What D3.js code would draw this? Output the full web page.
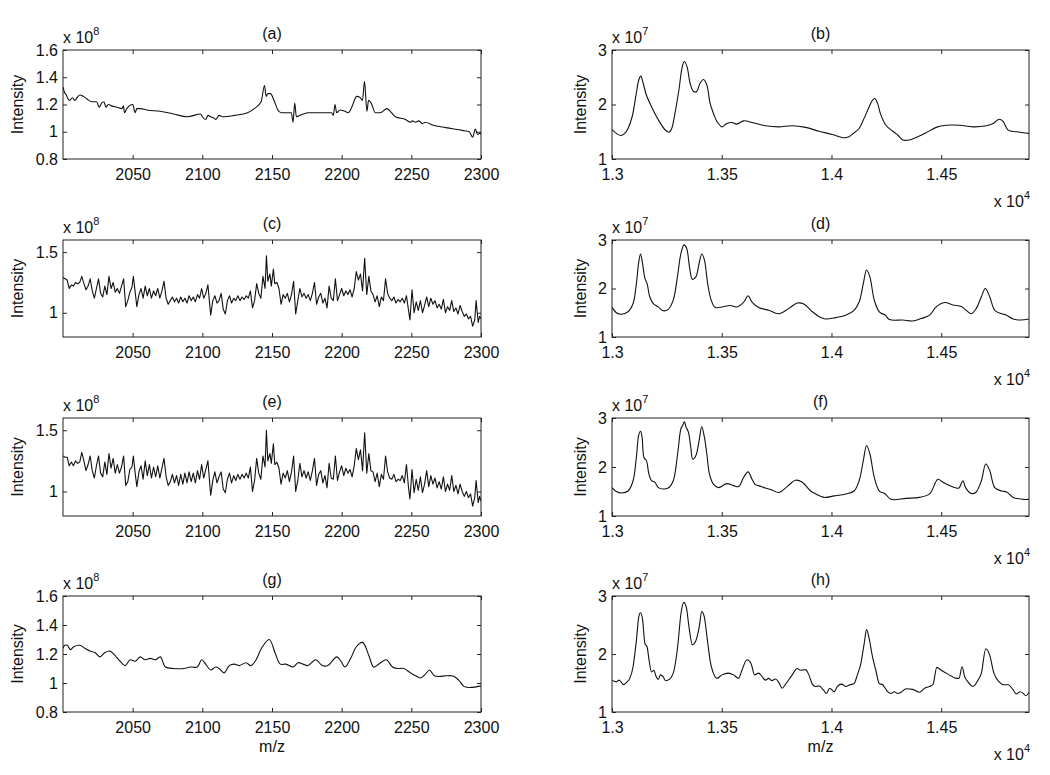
<!DOCTYPE html>
<html>
<head>
<meta charset="utf-8">
<script src="https://cdn.jsdelivr.net/npm/d3@7"></script>
<style>
  body { margin: 0; background: #fff; }
</style>
</head>
<body>
<svg id="chart"></svg>
<script>
// ---- data (intensities in units of the axis exponent: x10^8 left, x10^7 right) ----

// (a) raw spectrum, low mass range
const aMz = [2000, 2001, 2002.4, 2003.6, 2004.8, 2006.7, 2008.4, 2010.1, 2012, 2014.5, 2017.3, 2020.5, 2024.1, 2026, 2027.7, 2029.4, 2030.8, 2032.5, 2034.9, 2038.6, 2042.2, 2043.4, 2044.1, 2045.8, 2050.1, 2051.8, 2053, 2055.4, 2060.2, 2069.9, 2079.5, 2089.2, 2098.8, 2100, 2102.4, 2104.1, 2106, 2108.4, 2109.6, 2112, 2114.5, 2122.9, 2132.5, 2137.3, 2142.2, 2144.6, 2145.8, 2147, 2148.9, 2151.8, 2154.2, 2156.6, 2163.9, 2165.1, 2166.3, 2167.5, 2169.9, 2175.9, 2188, 2192.8, 2194, 2195.2, 2196.4, 2198.8, 2202.4, 2204.8, 2207.2, 2210.8, 2213.3, 2214.9, 2216.4, 2218.1, 2219.3, 2221.2, 2224.1, 2227.7, 2232.5, 2234.9, 2238.6, 2245.8, 2249.4, 2250.6, 2253, 2255.4, 2257.8, 2260.2, 2265.1, 2274.7, 2286.7, 2291.6, 2294, 2295.9, 2297.6, 2299.3, 2300];
const aInt = [1.33, 1.29, 1.27, 1.24, 1.23, 1.25, 1.23, 1.25, 1.27, 1.26, 1.24, 1.22, 1.22, 1.18, 1.21, 1.22, 1.18, 1.20, 1.19, 1.18, 1.17, 1.19, 1.14, 1.17, 1.20, 1.14, 1.17, 1.17, 1.16, 1.15, 1.13, 1.11, 1.13, 1.11, 1.09, 1.12, 1.11, 1.10, 1.09, 1.12, 1.11, 1.12, 1.14, 1.17, 1.22, 1.34, 1.26, 1.28, 1.28, 1.22, 1.16, 1.14, 1.14, 1.07, 1.21, 1.11, 1.12, 1.14, 1.14, 1.14, 1.12, 1.20, 1.14, 1.16, 1.15, 1.14, 1.18, 1.26, 1.25, 1.23, 1.37, 1.15, 1.23, 1.21, 1.14, 1.14, 1.17, 1.15, 1.11, 1.09, 1.07, 1.08, 1.07, 1.08, 1.06, 1.07, 1.05, 1.03, 1.01, 1.00, 0.96, 1.02, 0.98, 0.99, 0.98];

// (c), (e) noisy spectra share one m/z grid
const noiseMz = [2000, 2001.5, 2003, 2004.5, 2006, 2007.5, 2009, 2010.5, 2012, 2013.5, 2015, 2016.5, 2018, 2019.5, 2021, 2022.5, 2024, 2025.5, 2027, 2028.5, 2030, 2031.5, 2033, 2034.5, 2036, 2037.5, 2039, 2040.5, 2042, 2043.5, 2045, 2046.5, 2048, 2049.5, 2050.5, 2052, 2053, 2054.5, 2056, 2057.5, 2059, 2060.5, 2062, 2063.5, 2065, 2066.5, 2068, 2069.5, 2071, 2072.5, 2074, 2075.5, 2077, 2078.5, 2080, 2081.5, 2083, 2084.5, 2086, 2087.5, 2089, 2090.5, 2092, 2093.5, 2095, 2096.5, 2098, 2099.5, 2101, 2102.5, 2104, 2106, 2107.5, 2109, 2110.5, 2112, 2113.5, 2115, 2116.5, 2118, 2119.5, 2121, 2122.5, 2124, 2125.5, 2127, 2128.5, 2130, 2131.5, 2133, 2134.5, 2136, 2137.5, 2139, 2140.5, 2142, 2143.5, 2145, 2146, 2147, 2148.5, 2149.5, 2151, 2152, 2153.5, 2155, 2156.5, 2158, 2159.5, 2161, 2162.5, 2164, 2165.5, 2167, 2168.5, 2170, 2171.5, 2173, 2174.5, 2176, 2177.5, 2179, 2180.5, 2182, 2183.5, 2185, 2186.5, 2188, 2189.5, 2191, 2192.5, 2194, 2195.5, 2197, 2198.5, 2200, 2201.5, 2203, 2204.5, 2206, 2207.5, 2209, 2210.5, 2212, 2213.5, 2215, 2216.5, 2218, 2219.5, 2221, 2222.5, 2224, 2225.5, 2227, 2228.5, 2230, 2231.5, 2233, 2234.5, 2236, 2237.5, 2239, 2240.5, 2242, 2243.5, 2245, 2246.5, 2248, 2249, 2250.5, 2252, 2253.5, 2255, 2256.5, 2258, 2259.5, 2261, 2262.5, 2264, 2265.5, 2267, 2268.5, 2270, 2271.5, 2273, 2274.5, 2276, 2277.5, 2279, 2280.5, 2282, 2283.5, 2285, 2286.5, 2288, 2289.5, 2291, 2292.5, 2294, 2295.5, 2296.5, 2298, 2299, 2300];
const cInt = [1.29, 1.28, 1.27, 1.20, 1.23, 1.22, 1.25, 1.24, 1.25, 1.30, 1.24, 1.19, 1.22, 1.28, 1.18, 1.12, 1.20, 1.28, 1.16, 1.13, 1.22, 1.15, 1.30, 1.20, 1.25, 1.17, 1.20, 1.16, 1.22, 1.28, 1.05, 1.10, 1.17, 1.21, 1.30, 1.15, 1.05, 1.15, 1.20, 1.12, 1.22, 1.14, 1.20, 1.12, 1.18, 1.14, 1.20, 1.12, 1.18, 1.26, 1.12, 1.07, 1.10, 1.13, 1.09, 1.12, 1.08, 1.13, 1.09, 1.12, 1.08, 1.14, 1.10, 1.13, 1.09, 1.15, 1.12, 1.20, 1.12, 1.16, 1.23, 0.98, 1.10, 1.14, 1.08, 1.10, 1.16, 1.03, 0.99, 1.10, 1.14, 1.08, 1.12, 1.10, 1.14, 1.10, 1.13, 1.11, 1.14, 1.12, 1.18, 1.04, 1.10, 1.24, 1.16, 1.12, 1.30, 1.20, 1.47, 1.26, 1.32, 1.22, 1.36, 1.24, 1.25, 1.20, 1.07, 1.15, 1.12, 1.16, 1.09, 1.15, 1.26, 0.99, 1.10, 1.20, 1.13, 1.16, 1.12, 1.15, 1.10, 1.16, 1.25, 1.07, 1.13, 1.16, 1.08, 1.12, 1.04, 1.22, 1.12, 1.10, 1.28, 1.10, 1.15, 1.20, 1.14, 1.18, 1.15, 1.19, 1.13, 1.20, 1.34, 1.27, 1.32, 1.18, 1.45, 1.15, 1.30, 1.18, 1.15, 1.09, 1.14, 1.05, 1.13, 1.10, 1.28, 1.16, 1.12, 1.10, 1.13, 1.08, 1.11, 1.09, 1.12, 1.08, 1.14, 1.02, 0.94, 1.19, 1.00, 1.09, 1.02, 1.10, 1.00, 1.06, 1.13, 1.05, 1.12, 1.07, 1.10, 1.04, 1.07, 1.03, 1.11, 1.00, 1.05, 1.02, 1.10, 1.01, 1.04, 0.99, 1.06, 1.01, 0.97, 0.99, 0.95, 0.97, 0.89, 0.94, 1.10, 0.92, 0.97, 0.95];
const eInt = [1.29, 1.28, 1.28, 1.21, 1.24, 1.21, 1.25, 1.23, 1.24, 1.32, 1.25, 1.17, 1.22, 1.29, 1.17, 1.11, 1.21, 1.29, 1.15, 1.12, 1.24, 1.14, 1.31, 1.19, 1.27, 1.15, 1.22, 1.15, 1.20, 1.29, 1.05, 1.08, 1.18, 1.20, 1.29, 1.13, 1.04, 1.16, 1.21, 1.10, 1.25, 1.13, 1.22, 1.11, 1.20, 1.12, 1.21, 1.11, 1.19, 1.27, 1.12, 1.05, 1.08, 1.14, 1.07, 1.13, 1.05, 1.14, 1.06, 1.15, 1.07, 1.16, 1.08, 1.15, 1.07, 1.17, 1.10, 1.22, 1.11, 1.18, 1.25, 0.97, 1.09, 1.16, 1.07, 1.12, 1.16, 1.02, 0.99, 1.10, 1.15, 1.07, 1.13, 1.09, 1.14, 1.10, 1.14, 1.11, 1.15, 1.11, 1.20, 1.00, 1.09, 1.27, 1.15, 1.10, 1.29, 1.20, 1.50, 1.25, 1.31, 1.23, 1.39, 1.22, 1.24, 1.19, 1.06, 1.15, 1.11, 1.17, 1.08, 1.16, 1.29, 1.00, 1.09, 1.23, 1.12, 1.17, 1.11, 1.16, 1.09, 1.17, 1.27, 1.05, 1.14, 1.17, 1.07, 1.13, 1.03, 1.23, 1.11, 1.10, 1.29, 1.09, 1.16, 1.21, 1.13, 1.19, 1.15, 1.18, 1.12, 1.21, 1.35, 1.26, 1.34, 1.17, 1.48, 1.15, 1.31, 1.17, 1.16, 1.08, 1.15, 1.04, 1.14, 1.10, 1.29, 1.16, 1.11, 1.10, 1.14, 1.08, 1.10, 1.09, 1.13, 1.07, 1.22, 1.03, 0.94, 1.18, 0.99, 1.10, 1.01, 1.12, 0.99, 1.06, 1.17, 1.04, 1.13, 1.06, 1.11, 1.03, 1.08, 1.02, 1.12, 1.00, 1.06, 1.01, 1.13, 1.00, 1.05, 0.98, 1.06, 1.00, 0.96, 1.00, 0.95, 0.98, 0.88, 0.95, 1.09, 0.91, 0.96, 0.92];

// (g) smoothed spectrum, low mass range
const gMz = [2000, 2001.2, 2003.1, 2005.3, 2007.7, 2012, 2015.7, 2019.3, 2022.9, 2026.5, 2030.1, 2033.7, 2037.3, 2041, 2044.6, 2048.2, 2051.8, 2055.4, 2059, 2062.7, 2066.3, 2069.9, 2073.5, 2079.5, 2086.7, 2091.6, 2096.4, 2099.5, 2102.4, 2106, 2109.6, 2112, 2115.7, 2119.3, 2122.9, 2126.5, 2131.3, 2134.9, 2138.6, 2142.5, 2148, 2152.5, 2156, 2160, 2165.1, 2168.7, 2172.3, 2175.5, 2181.5, 2186, 2190, 2196.5, 2199.5, 2202.4, 2206.5, 2210.5, 2215, 2219.5, 2223, 2226.5, 2232, 2236.5, 2240, 2244.6, 2249.4, 2253, 2256.6, 2260, 2263, 2266.5, 2270, 2275, 2280, 2284, 2288, 2294, 2300];
const gInt = [1.24, 1.26, 1.26, 1.23, 1.25, 1.26, 1.24, 1.22, 1.21, 1.18, 1.21, 1.22, 1.19, 1.15, 1.12, 1.16, 1.15, 1.18, 1.16, 1.17, 1.16, 1.18, 1.11, 1.10, 1.10, 1.11, 1.11, 1.16, 1.13, 1.09, 1.11, 1.10, 1.07, 1.12, 1.13, 1.12, 1.14, 1.12, 1.16, 1.24, 1.30, 1.20, 1.13, 1.13, 1.11, 1.14, 1.13, 1.12, 1.16, 1.12, 1.12, 1.18, 1.15, 1.11, 1.17, 1.25, 1.28, 1.19, 1.11, 1.13, 1.16, 1.11, 1.10, 1.10, 1.07, 1.05, 1.035, 1.06, 1.09, 1.05, 1.045, 1.05, 1.048, 1.02, 0.975, 0.97, 0.98];

// (b) raw spectrum, high mass range
const bMz = [13000, 13020, 13040, 13058, 13073, 13092, 13108, 13122, 13131, 13142, 13157, 13180, 13211, 13241, 13259, 13272, 13287, 13305, 13320, 13330, 13342, 13356, 13371, 13386, 13401, 13417, 13432, 13447, 13462, 13478, 13501, 13523, 13546, 13569, 13600, 13638, 13699, 13760, 13821, 13882, 13943, 14004, 14057, 14080, 14103, 14126, 14149, 14172, 14187, 14198, 14210, 14225, 14248, 14279, 14302, 14325, 14355, 14393, 14431, 14477, 14523, 14584, 14645, 14706, 14737, 14764, 14782, 14805, 14843, 14900];
const bInt = [1.54, 1.47, 1.43, 1.47, 1.56, 1.78, 2.14, 2.45, 2.52, 2.39, 2.17, 1.96, 1.72, 1.54, 1.49, 1.56, 1.84, 2.27, 2.69, 2.79, 2.69, 2.39, 2.24, 2.24, 2.39, 2.46, 2.36, 2.02, 1.84, 1.69, 1.59, 1.65, 1.67, 1.64, 1.70, 1.67, 1.61, 1.59, 1.61, 1.58, 1.51, 1.45, 1.39, 1.41, 1.48, 1.56, 1.75, 1.96, 2.08, 2.11, 2.02, 1.81, 1.62, 1.51, 1.44, 1.35, 1.35, 1.41, 1.48, 1.58, 1.62, 1.62, 1.59, 1.61, 1.65, 1.73, 1.69, 1.53, 1.50, 1.47];

// (d) processed spectrum
const dMz = [13000, 13020, 13043, 13073, 13096, 13111, 13122, 13130, 13139, 13150, 13160, 13172, 13188, 13211, 13233, 13256, 13279, 13298, 13314, 13328, 13340, 13353, 13366, 13382, 13397, 13409, 13421, 13436, 13452, 13470, 13501, 13539, 13569, 13600, 13620, 13638, 13668, 13714, 13760, 13806, 13844, 13874, 13913, 13951, 13974, 14019, 14065, 14103, 14126, 14145, 14160, 14175, 14195, 14218, 14245, 14264, 14325, 14370, 14408, 14447, 14477, 14515, 14553, 14592, 14614, 14637, 14660, 14683, 14701, 14721, 14744, 14775, 14798, 14828, 14859, 14900];
const dInt = [1.61, 1.50, 1.47, 1.52, 1.69, 2.10, 2.55, 2.71, 2.52, 2.21, 2.10, 1.83, 1.69, 1.62, 1.54, 1.57, 1.76, 2.24, 2.72, 2.90, 2.83, 2.45, 2.19, 2.24, 2.52, 2.71, 2.59, 2.10, 1.76, 1.61, 1.62, 1.65, 1.62, 1.72, 1.85, 1.72, 1.61, 1.55, 1.48, 1.59, 1.70, 1.68, 1.52, 1.40, 1.37, 1.40, 1.45, 1.55, 1.72, 2.10, 2.38, 2.24, 1.76, 1.52, 1.45, 1.36, 1.35, 1.33, 1.38, 1.45, 1.62, 1.71, 1.66, 1.63, 1.55, 1.48, 1.59, 1.83, 2.00, 1.83, 1.55, 1.48, 1.45, 1.37, 1.35, 1.37];

// (f) processed spectrum
const fMz = [13000, 13020, 13043, 13073, 13096, 13111, 13122, 13130, 13137, 13146, 13157, 13168, 13180, 13195, 13211, 13233, 13256, 13279, 13299, 13314, 13322, 13330, 13337, 13348, 13359, 13368, 13382, 13397, 13409, 13421, 13432, 13444, 13462, 13485, 13523, 13554, 13577, 13600, 13620, 13638, 13653, 13668, 13699, 13729, 13760, 13798, 13836, 13867, 13905, 13928, 13966, 14012, 14065, 14103, 14126, 14145, 14160, 14175, 14195, 14218, 14245, 14271, 14340, 14401, 14447, 14485, 14508, 14538, 14569, 14581, 14599, 14611, 14637, 14657, 14683, 14703, 14721, 14744, 14775, 14798, 14828, 14874, 14900];
const fInt = [1.58, 1.50, 1.47, 1.51, 1.72, 2.20, 2.66, 2.73, 2.61, 2.19, 2.13, 1.86, 1.72, 1.69, 1.58, 1.55, 1.57, 1.72, 2.27, 2.78, 2.85, 2.92, 2.82, 2.71, 2.40, 2.16, 2.23, 2.54, 2.82, 2.61, 2.27, 1.86, 1.65, 1.58, 1.66, 1.62, 1.60, 1.79, 1.90, 1.75, 1.64, 1.62, 1.57, 1.53, 1.48, 1.60, 1.73, 1.69, 1.51, 1.45, 1.38, 1.41, 1.45, 1.51, 1.72, 2.13, 2.44, 2.27, 1.79, 1.51, 1.45, 1.34, 1.36, 1.38, 1.45, 1.75, 1.69, 1.62, 1.57, 1.57, 1.72, 1.58, 1.46, 1.48, 1.72, 2.06, 1.93, 1.58, 1.51, 1.49, 1.38, 1.34, 1.34];

// (h) processed spectrum
const hMz = [13000, 13020, 13032, 13043, 13053, 13066, 13081, 13096, 13111, 13122, 13130, 13139, 13150, 13160, 13169, 13180, 13191, 13200, 13211, 13221, 13233, 13244, 13256, 13279, 13299, 13314, 13327, 13339, 13351, 13366, 13382, 13397, 13409, 13421, 13433, 13447, 13465, 13478, 13501, 13531, 13554, 13577, 13592, 13615, 13633, 13650, 13668, 13684, 13699, 13714, 13729, 13745, 13760, 13775, 13791, 13821, 13844, 13859, 13882, 13897, 13913, 13928, 13943, 13963, 13977, 13992, 14012, 14027, 14047, 14065, 14084, 14103, 14118, 14134, 14149, 14160, 14172, 14187, 14202, 14218, 14233, 14256, 14271, 14286, 14302, 14317, 14340, 14370, 14401, 14424, 14447, 14462, 14480, 14500, 14523, 14546, 14569, 14581, 14595, 14607, 14622, 14645, 14668, 14683, 14703, 14721, 14740, 14764, 14785, 14805, 14828, 14843, 14859, 14874, 14886, 14900];
const hInt = [1.55, 1.52, 1.55, 1.51, 1.47, 1.51, 1.58, 1.78, 2.23, 2.64, 2.71, 2.60, 2.18, 2.12, 1.89, 1.69, 1.72, 1.62, 1.56, 1.64, 1.61, 1.54, 1.55, 1.67, 2.12, 2.69, 2.89, 2.80, 2.46, 2.16, 2.23, 2.46, 2.73, 2.63, 2.29, 1.89, 1.64, 1.58, 1.64, 1.67, 1.64, 1.58, 1.72, 1.90, 1.84, 1.64, 1.67, 1.61, 1.55, 1.58, 1.54, 1.57, 1.51, 1.41, 1.48, 1.64, 1.75, 1.72, 1.73, 1.64, 1.48, 1.44, 1.45, 1.38, 1.32, 1.41, 1.35, 1.44, 1.48, 1.44, 1.47, 1.49, 1.64, 1.84, 2.18, 2.42, 2.26, 1.95, 1.72, 1.49, 1.47, 1.35, 1.32, 1.35, 1.32, 1.34, 1.40, 1.39, 1.34, 1.41, 1.44, 1.47, 1.77, 1.72, 1.67, 1.62, 1.58, 1.58, 1.78, 1.61, 1.52, 1.44, 1.55, 1.67, 2.09, 1.98, 1.67, 1.52, 1.47, 1.47, 1.38, 1.31, 1.35, 1.32, 1.28, 1.34];

// axis ticks
const lowMzTicks = [2050, 2100, 2150, 2200, 2250, 2300];
const highMzTicks = [13000, 13500, 14000, 14500];
const yTicksFine = [0.8, 1, 1.2, 1.4, 1.6];
const yTicksCoarse = [1, 1.5];
const yTicksHigh = [1, 2, 3];

// ---- layout ----
const width = 1050, height = 775;
const cols = [{ x0: 63, x1: 481 }, { x0: 612, x1: 1029 }];
const rows = [{ y0: 50, y1: 159 }, { y0: 240, y1: 337 }, { y0: 418, y1: 516 }, { y0: 596, y1: 712 }];
const FONT = "'Liberation Sans', Arial, Helvetica, sans-serif";

const low = { xDomain: [2000, 2300], xTicks: lowMzTicks, xFmt: d => String(d), exp: "8" };
const high = { xDomain: [13000, 14900], xTicks: highMzTicks, xFmt: d => String(+(d / 1e4).toFixed(2)), exp: "7", xExp: "4" };

const panels = [
  { id: "a", col: 0, row: 0, mz: aMz, val: aInt, yDomain: [0.8, 1.6], yTicks: yTicksFine, curve: d3.curveMonotoneX, ...low },
  { id: "b", col: 1, row: 0, mz: bMz, val: bInt, yDomain: [1, 3], yTicks: yTicksHigh, curve: d3.curveCatmullRom, ...high },
  { id: "c", col: 0, row: 1, mz: noiseMz, val: cInt, yDomain: [0.8, 1.6], yTicks: yTicksCoarse, curve: d3.curveLinear, ...low },
  { id: "d", col: 1, row: 1, mz: dMz, val: dInt, yDomain: [1, 3], yTicks: yTicksHigh, curve: d3.curveCatmullRom, ...high },
  { id: "e", col: 0, row: 2, mz: noiseMz, val: eInt, yDomain: [0.8, 1.6], yTicks: yTicksCoarse, curve: d3.curveLinear, ...low },
  { id: "f", col: 1, row: 2, mz: fMz, val: fInt, yDomain: [1, 3], yTicks: yTicksHigh, curve: d3.curveCatmullRom, ...high },
  { id: "g", col: 0, row: 3, mz: gMz, val: gInt, yDomain: [0.8, 1.6], yTicks: yTicksFine, curve: d3.curveCatmullRom, ...low },
  { id: "h", col: 1, row: 3, mz: hMz, val: hInt, yDomain: [1, 3], yTicks: yTicksHigh, curve: d3.curveMonotoneX, ...high }
];

const svg = d3.select("#chart")
  .attr("width", width)
  .attr("height", height)
  .style("font-family", FONT);

svg.append("rect").attr("width", width).attr("height", height).attr("fill", "#fff");

const styleAxis = (g) => {
  g.select(".domain").remove();
  g.selectAll(".tick line").attr("stroke", "#222");
  g.selectAll("text").attr("fill", "#111").style("font-size", "16px").style("font-family", FONT);
};

panels.forEach((p) => {
  const c = cols[p.col], r = rows[p.row];
  const x = d3.scaleLinear().domain(p.xDomain).range([c.x0, c.x1]);
  const y = d3.scaleLinear().domain(p.yDomain).range([r.y1, r.y0]);
  const g = svg.append("g").attr("class", "panel-" + p.id);

  g.append("clipPath").attr("id", "clip-" + p.id)
    .append("rect")
    .attr("x", c.x0).attr("y", r.y0)
    .attr("width", c.x1 - c.x0).attr("height", r.y1 - r.y0);

  // spectrum line
  const line = d3.line()
    .x((i) => x(p.mz[i]))
    .y((i) => y(p.val[i]))
    .curve(p.curve);

  g.append("path")
    .datum(d3.range(p.mz.length))
    .attr("clip-path", `url(#clip-${p.id})`)
    .attr("fill", "none")
    .attr("stroke", "#111")
    .attr("stroke-width", 1.1)
    .attr("stroke-linejoin", "round")
    .attr("d", line);

  // ticks point inward on all four sides
  g.append("g")
    .attr("transform", `translate(0,${r.y1})`)
    .call(d3.axisBottom(x).tickValues(p.xTicks).tickFormat(p.xFmt).tickSizeInner(-4).tickSizeOuter(0).tickPadding(10))
    .call(styleAxis);
  g.append("g")
    .attr("transform", `translate(0,${r.y0})`)
    .call(d3.axisTop(x).tickValues(p.xTicks).tickFormat("").tickSizeInner(-4).tickSizeOuter(0))
    .call(styleAxis);
  g.append("g")
    .attr("transform", `translate(${c.x0},0)`)
    .call(d3.axisLeft(y).tickValues(p.yTicks).tickFormat((d) => String(d)).tickSizeInner(-4).tickSizeOuter(0).tickPadding(5))
    .call(styleAxis);
  g.append("g")
    .attr("transform", `translate(${c.x1},0)`)
    .call(d3.axisRight(y).tickValues(p.yTicks).tickFormat("").tickSizeInner(-4).tickSizeOuter(0))
    .call(styleAxis);

  // box
  g.append("rect")
    .attr("x", c.x0).attr("y", r.y0)
    .attr("width", c.x1 - c.x0).attr("height", r.y1 - r.y0)
    .attr("fill", "none").attr("stroke", "#222").attr("stroke-width", 1);

  // title
  g.append("text")
    .attr("x", (c.x0 + c.x1) / 2).attr("y", r.y0 - 11)
    .attr("text-anchor", "middle")
    .style("font-size", "16px").attr("fill", "#111")
    .text(`(${p.id})`);

  // y label
  g.append("text")
    .attr("transform", `translate(${p.col === 0 ? 23 : 586},${(r.y0 + r.y1) / 2}) rotate(-90)`)
    .attr("text-anchor", "middle")
    .style("font-size", "16px").attr("fill", "#111")
    .text("Intensity");

  // y exponent
  const ye = g.append("text")
    .attr("x", c.x0).attr("y", r.y0 - 7)
    .style("font-size", "16px").attr("fill", "#111");
  ye.append("tspan").text("x 10");
  ye.append("tspan").attr("dy", -8).style("font-size", "11px").text(p.exp);

  // x exponent for the high mass panels
  if (p.xExp) {
    const xe = g.append("text")
      .attr("x", c.x1 + 1).attr("y", r.y1 + 48)
      .attr("text-anchor", "end")
      .style("font-size", "16px").attr("fill", "#111");
    xe.append("tspan").text("x 10");
    xe.append("tspan").attr("dy", -8).style("font-size", "11px").text(p.xExp);
  }

  // x label on the bottom row
  if (p.row === 3) {
    g.append("text")
      .attr("x", (c.x0 + c.x1) / 2).attr("y", r.y1 + 40)
      .attr("text-anchor", "middle")
      .style("font-size", "16px").attr("fill", "#111")
      .text("m/z");
  }
});
</script>
</body>
</html>
